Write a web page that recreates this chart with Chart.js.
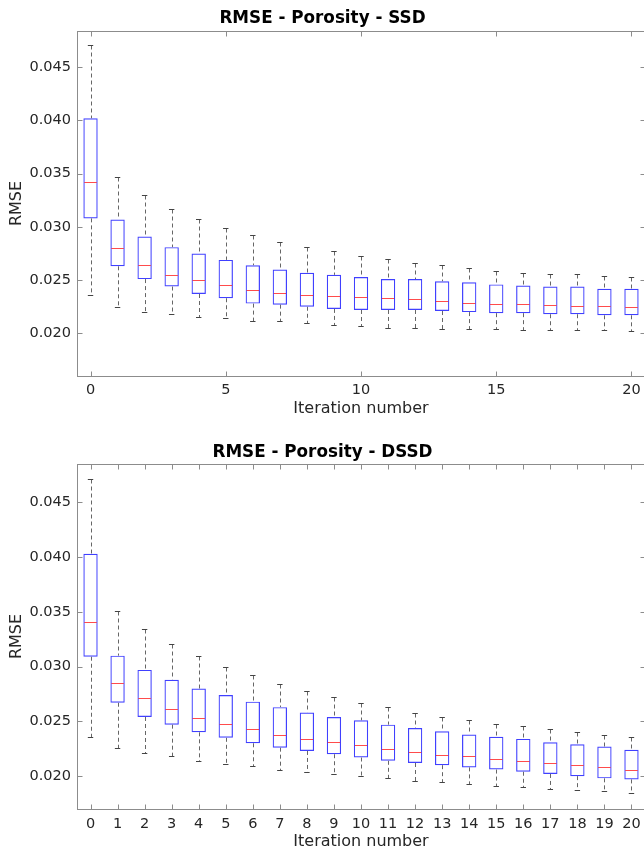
<!DOCTYPE html>
<html>
<head>
<meta charset="utf-8">
<title>RMSE - Porosity</title>
<script src="https://cdn.jsdelivr.net/npm/chart.js@4.4.1/dist/chart.umd.min.js"></script>
<style>
  html, body { margin: 0; padding: 0; background: #fff; overflow: hidden; }
  .panel { position: absolute; left: 0; }
  #top { top: 0; }
  #bottom { top: 430px; }
</style>
</head>
<body>
<div class="panel" id="top"><canvas id="ssdChart" width="660" height="430"></canvas></div>
<div class="panel" id="bottom"><canvas id="dssdChart" width="660" height="423"></canvas></div>
<script>
// ── data ────────────────────────────────────────────────────────
const iterations = [0, 1, 2, 3, 4, 5, 6, 7, 8, 9, 10, 11, 12, 13, 14, 15, 16, 17, 18, 19, 20];
const yTickValues = [0.020, 0.025, 0.030, 0.035, 0.040, 0.045];
const xTicksTop = [0, 5, 10, 15, 20];
const xTicksBottom = [0, 1, 2, 3, 4, 5, 6, 7, 8, 9, 10, 11, 12, 13, 14, 15, 16, 17, 18, 19, 20];

// SSD
const ssdHi  = [0.0471, 0.0347, 0.0330, 0.0317, 0.0307, 0.0299, 0.0292, 0.0286, 0.0281, 0.0277, 0.0273, 0.0270, 0.0266, 0.0264, 0.0261, 0.0259, 0.0257, 0.0256, 0.0256, 0.0254, 0.0253];
const ssdQ3  = [0.0402, 0.0307, 0.0291, 0.0281, 0.0275, 0.0269, 0.0264, 0.0260, 0.0257, 0.0255, 0.0253, 0.0251, 0.0251, 0.0249, 0.0248, 0.0246, 0.0245, 0.0244, 0.0244, 0.0242, 0.0242];
const ssdMed = [0.0342, 0.0280, 0.0264, 0.0255, 0.0250, 0.0245, 0.0241, 0.0238, 0.0236, 0.0235, 0.0234, 0.0233, 0.0232, 0.0230, 0.0229, 0.0228, 0.0228, 0.0227, 0.0226, 0.0226, 0.0225];
const ssdQ1  = [0.0308, 0.0263, 0.0251, 0.0244, 0.0237, 0.0233, 0.0228, 0.0227, 0.0225, 0.0223, 0.0222, 0.0222, 0.0222, 0.0221, 0.0220, 0.0219, 0.0219, 0.0218, 0.0218, 0.0217, 0.0217];
const ssdLo  = [0.0236, 0.0225, 0.0220, 0.0218, 0.0215, 0.0214, 0.0212, 0.0212, 0.0210, 0.0208, 0.0207, 0.0205, 0.0205, 0.0204, 0.0204, 0.0204, 0.0203, 0.0203, 0.0203, 0.0203, 0.0202];

// DSSD
const dssdHi  = [0.0471, 0.0351, 0.0334, 0.0321, 0.0310, 0.0300, 0.0292, 0.0284, 0.0278, 0.0272, 0.0267, 0.0263, 0.0258, 0.0254, 0.0251, 0.0248, 0.0246, 0.0243, 0.0240, 0.0238, 0.0236];
const dssdQ3  = [0.0403, 0.0310, 0.0297, 0.0288, 0.0280, 0.0274, 0.0268, 0.0263, 0.0258, 0.0254, 0.0251, 0.0247, 0.0244, 0.0241, 0.0238, 0.0236, 0.0234, 0.0231, 0.0229, 0.0227, 0.0224];
const dssdMed = [0.0341, 0.0285, 0.0271, 0.0261, 0.0253, 0.0248, 0.0243, 0.0238, 0.0234, 0.0231, 0.0228, 0.0225, 0.0222, 0.0219, 0.0218, 0.0216, 0.0214, 0.0212, 0.0210, 0.0208, 0.0206];
const dssdQ1  = [0.0309, 0.0267, 0.0254, 0.0247, 0.0240, 0.0235, 0.0230, 0.0226, 0.0223, 0.0220, 0.0217, 0.0214, 0.0212, 0.0210, 0.0208, 0.0206, 0.0204, 0.0202, 0.0200, 0.0198, 0.0197];
const dssdLo  = [0.0236, 0.0226, 0.0221, 0.0218, 0.0214, 0.0211, 0.0209, 0.0206, 0.0204, 0.0202, 0.0200, 0.0198, 0.0196, 0.0195, 0.0193, 0.0191, 0.0190, 0.0188, 0.0187, 0.0186, 0.0185];

// ── styling ─────────────────────────────────────────────────────
const BOX_COLOR = 'rgba(0, 0, 255, 0.75)';
const MEDIAN_COLOR = 'rgba(255, 0, 0, 0.7)';
const WHISKER_COLOR = '#666';
const CAP_COLOR = '#444';
const AXIS_COLOR = '#8c8c8c';
const TEXT_COLOR = '#262626';
const TICK_LEN = 5;
const CAP_HALF = 0.1; // in iteration units

Chart.defaults.font.family = "'DejaVu Sans', sans-serif";

function line(ctx, x1, y1, x2, y2) {
  ctx.beginPath();
  ctx.moveTo(x1, y1);
  ctx.lineTo(x2, y2);
  ctx.stroke();
}

// whiskers, caps, medians, axes box and inward ticks (MATLAB look)
const boxplotExtras = {
  id: 'boxplotExtras',
  afterDatasetsDraw(chart, args, opts) {
    const { ctx, chartArea: a, scales: { x, y } } = chart;
    const bars = chart.getDatasetMeta(0).data;
    ctx.save();
    ctx.beginPath();
    ctx.rect(a.left, a.top, a.right - a.left, a.bottom - a.top);
    ctx.clip();
    ctx.lineWidth = 1;
    iterations.forEach((it, i) => {
      const cx = Math.round(x.getPixelForValue(it)) + 0.5;
      const yHi = Math.round(y.getPixelForValue(opts.hi[i])) + 0.5;
      const yLo = Math.round(y.getPixelForValue(opts.lo[i])) + 0.5;
      const yQ3 = y.getPixelForValue(opts.q3[i]);
      const yQ1 = y.getPixelForValue(opts.q1[i]);
      const yMed = Math.round(y.getPixelForValue(opts.med[i])) + 0.5;

      ctx.strokeStyle = WHISKER_COLOR;
      ctx.setLineDash([4, 3]);
      line(ctx, cx, yHi, cx, yQ3);
      line(ctx, cx, yQ1, cx, yLo);
      ctx.setLineDash([]);

      const capL = x.getPixelForValue(it - CAP_HALF);
      const capR = x.getPixelForValue(it + CAP_HALF);
      ctx.strokeStyle = CAP_COLOR;
      line(ctx, capL, yHi, capR, yHi);
      line(ctx, capL, yLo, capR, yLo);

      const bar = bars[i];
      ctx.strokeStyle = MEDIAN_COLOR;
      line(ctx, bar.x - bar.width / 2 + 1, yMed, bar.x + bar.width / 2 - 1, yMed);
    });
    ctx.restore();
  },
  afterDraw(chart) {
    const { ctx, chartArea: a, scales: { x, y } } = chart;
    ctx.save();
    ctx.strokeStyle = AXIS_COLOR;
    ctx.lineWidth = 1;
    const l = Math.round(a.left) + 0.5, r = Math.round(a.right) + 0.5;
    const t = Math.round(a.top) + 0.5, b = Math.round(a.bottom) + 0.5;
    ctx.strokeRect(l, t, r - l, b - t);
    x.ticks.forEach(tk => {
      const px = Math.round(x.getPixelForValue(tk.value)) + 0.5;
      line(ctx, px, b, px, b - TICK_LEN);
      line(ctx, px, t, px, t + TICK_LEN);
    });
    y.ticks.forEach(tk => {
      const py = Math.round(y.getPixelForValue(tk.value)) + 0.5;
      line(ctx, l, py, l + TICK_LEN, py);
      line(ctx, r, py, r - TICK_LEN, py);
    });
    ctx.restore();
  }
};

function makeBoxChart(canvasId, s) {
  const ctx = document.getElementById(canvasId).getContext('2d');
  return new Chart(ctx, {
    type: 'bar',
    data: {
      datasets: [{
        data: iterations.map((it, i) => ({ x: it, y: [s.q1[i], s.q3[i]] })),
        backgroundColor: 'rgba(0,0,0,0)',
        borderColor: BOX_COLOR,
        borderWidth: 1.2,
        borderSkipped: false,
        categoryPercentage: 1,
        barPercentage: 0.53
      }]
    },
    options: {
      responsive: false,
      animation: false,
      events: [],
      layout: { padding: { left: 0, right: 15, top: 0, bottom: 0 } },
      plugins: {
        legend: { display: false },
        tooltip: { enabled: false },
        title: {
          display: true,
          text: s.title,
          color: '#000',
          font: { size: 16.8, weight: 'bold' },
          padding: { top: s.titleTop, bottom: s.titleBottom }
        },
        boxplotExtras: { hi: s.hi, q3: s.q3, med: s.med, q1: s.q1, lo: s.lo }
      },
      scales: {
        x: {
          type: 'linear',
          min: -0.5,
          max: 20.5,
          offset: false,
          grid: { display: false, drawTicks: false },
          border: { display: false },
          afterBuildTicks: sc => { sc.ticks = s.xTicks.map(v => ({ value: v })); },
          afterFit: sc => { sc.height = s.xHeight; },
          ticks: {
            color: TEXT_COLOR,
            font: { size: 14.5 },
            padding: s.xTickPad,
            maxRotation: 0,
            autoSkip: false,
            callback: v => String(v)
          },
          title: {
            display: true,
            text: 'Iteration number',
            color: TEXT_COLOR,
            font: { size: 16 },
            padding: { top: 0, bottom: s.xTitleBottom }
          }
        },
        y: {
          min: s.yMin,
          max: s.yMax,
          grid: { display: false, drawTicks: false },
          border: { display: false },
          afterBuildTicks: sc => { sc.ticks = yTickValues.map(v => ({ value: v })); },
          afterFit: sc => { sc.width = 77; },
          ticks: {
            color: TEXT_COLOR,
            font: { size: 14.5 },
            padding: 6,
            callback: v => v.toFixed(3)
          },
          title: {
            display: true,
            text: 'RMSE',
            color: TEXT_COLOR,
            font: { size: 16 },
            padding: { top: 6.8, bottom: 0 }
          }
        }
      }
    },
    plugins: [boxplotExtras]
  });
}

// ── top: SSD ──
makeBoxChart('ssdChart', {
  title: 'RMSE - Porosity - SSD',
  hi: ssdHi, q3: ssdQ3, med: ssdMed, q1: ssdQ1, lo: ssdLo,
  yMin: 0.016, yMax: 0.0484,
  xTicks: xTicksTop,
  titleTop: 8.4, titleBottom: 2.4,
  xHeight: 54, xTickPad: 6, xTitleBottom: 11.4
});

// ── bottom: DSSD ──
makeBoxChart('dssdChart', {
  title: 'RMSE - Porosity - DSSD',
  hi: dssdHi, q3: dssdQ3, med: dssdMed, q1: dssdQ1, lo: dssdLo,
  yMin: 0.017, yMax: 0.0485,
  xTicks: xTicksBottom,
  titleTop: 12.2, titleBottom: 1.6,
  xHeight: 44, xTickPad: 6.6, xTitleBottom: 1.9
});
</script>
</body>
</html>
